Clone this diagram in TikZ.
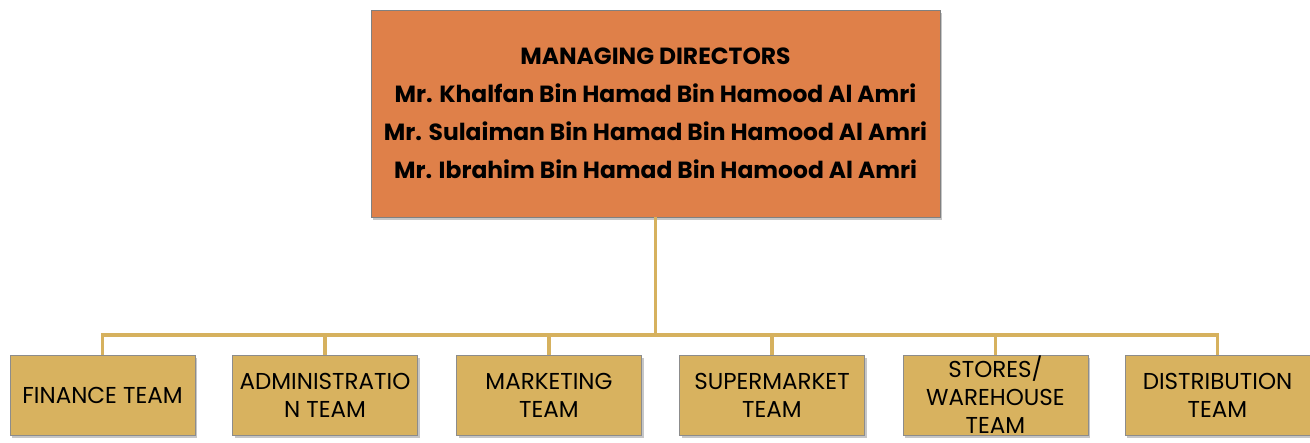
\documentclass[tikz,border=0pt]{standalone}
\usepackage{fontspec}
\setmainfont{Poppins}
\usetikzlibrary{shadows}
\definecolor{topfill}{HTML}{DF8049}
\definecolor{teamfill}{HTML}{D8B25F}
\definecolor{linec}{HTML}{D6B15E}
\begin{document}
\begin{tikzpicture}[x=1pt,y=-1pt,
 topbox/.style={draw=black!50, fill=topfill, minimum width=569pt, minimum height=207pt, align=center,
   font=\bfseries\fontsize{23.4}{38}\selectfont, inner sep=0pt,
   drop shadow={shadow xshift=2pt, shadow yshift=-3pt, opacity=0.45}},
 team/.style={draw=black!45, fill=teamfill, minimum width=185pt, minimum height=80pt, align=center,
   font=\fontsize{23}{28}\selectfont, inner sep=0pt,
   drop shadow={shadow xshift=2pt, shadow yshift=-3pt, opacity=0.45}},
 conn/.style={draw=linec, line width=3.2pt}]
\useasboundingbox (0,0) rectangle (1310,443);
\node[topbox] (top) at (655.5,113.5) {MANAGING DIRECTORS\\Mr. Khalfan Bin Hamad Bin Hamood Al Amri\\Mr. Sulaiman Bin Hamad Bin Hamood Al Amri\\Mr. Ibrahim Bin Hamad Bin Hamood Al Amri};
\node[team] (fin) at (102.5,395) {FINANCE TEAM};
\node[team] (adm) at (325,395) {ADMINISTRATIO\\N TEAM};
\node[team] (mkt) at (549,395) {MARKETING\\TEAM};
\node[team] (sup) at (772,395) {SUPERMARKET\\TEAM};
\node[team] (sto) at (995.5,395) {STORES/\\WAREHOUSE\\TEAM};
\node[team] (dis) at (1217.5,395) {DISTRIBUTION\\TEAM};
\coordinate (bus) at (655.5,335);
\draw[conn] (top.south) -- (bus);
\foreach \n in {fin,adm,mkt,sup,sto,dis} \draw[conn] (bus) -| (\n.north);
\end{tikzpicture}
\end{document}
